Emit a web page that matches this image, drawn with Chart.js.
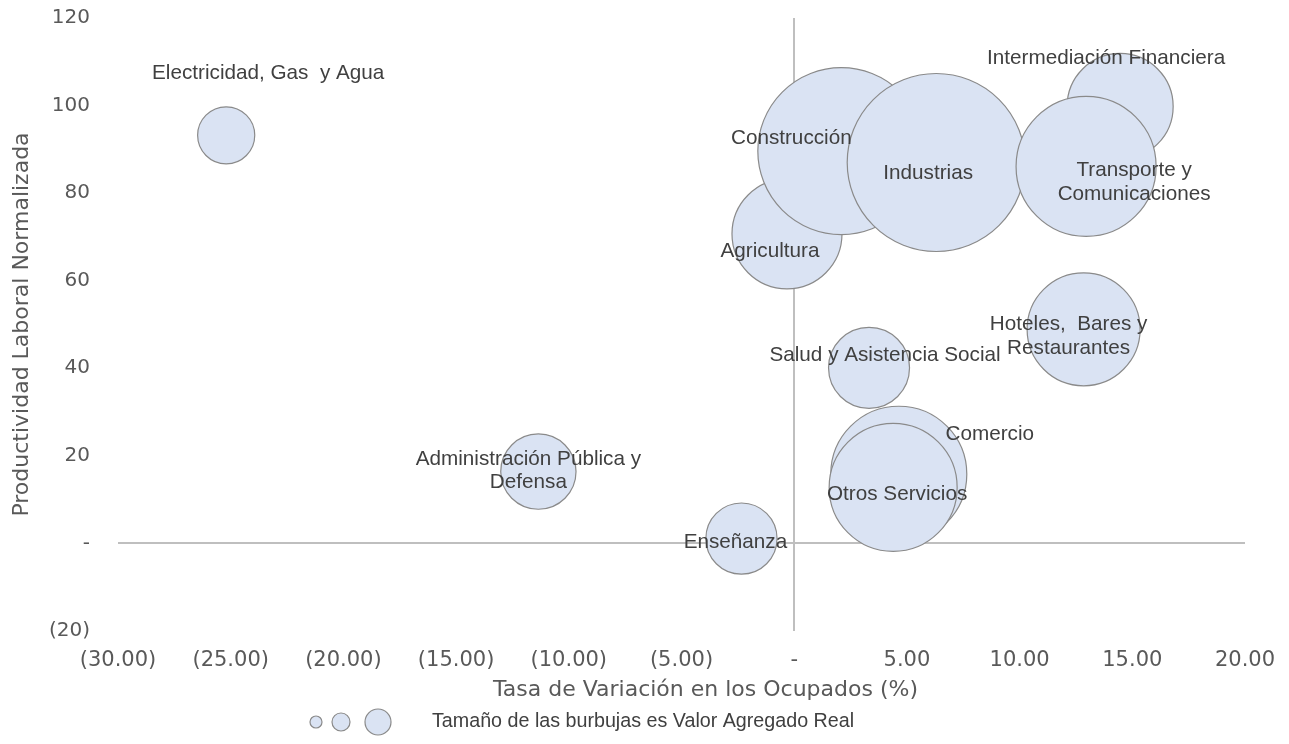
<!DOCTYPE html>
<html><head><meta charset="utf-8">
<script src="https://cdn.jsdelivr.net/npm/chart.js@4.4.0/dist/chart.umd.min.js"></script>
<style>html,body{margin:0;padding:0;background:#fff;}canvas{display:block;}</style>
</head><body>
<canvas id="c" width="1289" height="744"></canvas>
<script>
// ---- data ----
const sectores = [
  ['Electricidad, Gas  y Agua'],
  ['Agricultura'],
  ['Construcción'],
  ['Industrias'],
  ['Intermediación Financiera'],
  ['Transporte y', 'Comunicaciones'],
  ['Hoteles,  Bares y', 'Restaurantes'],
  ['Salud y Asistencia Social'],
  ['Comercio'],
  ['Otros Servicios'],
  ['Administración Pública y', 'Defensa'],
  ['Enseñanza']
];
const tasaVariacionOcupados = [-25.2, -0.32, 2.09, 6.30, 14.46, 12.95, 12.84, 3.32, 4.64, 4.39, -11.35, -2.34];
const productividadNormalizada = [93.2, 70.7, 89.6, 87.0, 99.8, 86.1, 48.9, 40.1, 15.8, 12.8, 16.4, 1.1];
const valorAgregadoReal = [10.3, 38.2, 88.0, 100.0, 35.5, 61.9, 40.3, 20.7, 58.4, 51.7, 17.9, 16.0];
const xTickValues = [-30, -25, -20, -15, -10, -5, 0, 5, 10, 15, 20];
const yTickValues = [-20, 0, 20, 40, 60, 80, 100, 120];
const xAxisTitle = 'Tasa de Variación en los Ocupados (%)';
const yAxisTitle = 'Productividad Laboral Normalizada';
const legendText = 'Tamaño de las burbujas es Valor Agregado Real';

// ---- style ----
const FONT = '"Liberation Sans", Arial, sans-serif';
const AXIS_FONT = '"DejaVu Sans", "Liberation Sans", sans-serif';
const MAX_RADIUS = 89;
const FILL = '#dae3f3';
const STROKE = '#8a8a8a';
const LABEL_COLOR = '#404040';
const AXIS_COLOR = '#595959';
// label offsets in pixels relative to bubble centres (style only)
const labelOffsets = [[42,-62],[-17,17],[-50,-13],[-8,11],[-14,-48],[48,16],[-15,7],[16,-13],[91,-40],[4,7],[-10,-1],[-6,4]];
const maxVal = Math.max(...valorAgregadoReal);
const radiusFor = v => MAX_RADIUS * Math.sqrt(v / maxVal);

function fmtX(v){ if (v === 0) return '-'; const s = Math.abs(v).toFixed(2); return v < 0 ? '(' + s + ')' : s; }
function fmtY(v){ if (v === 0) return '-'; const s = Math.abs(v).toFixed(0); return v < 0 ? '(' + s + ')' : s; }

const points = sectores.map((s, i) => ({
  x: tasaVariacionOcupados[i], y: productividadNormalizada[i], r: radiusFor(valorAgregadoReal[i])
}));

const labelPlugin = {
  id: 'bubbleLabels',
  afterDatasetsDraw(chart) {
    const ctx = chart.ctx;
    const meta = chart.getDatasetMeta(0);
    ctx.save();
    ctx.font = '20.7px ' + FONT;
    ctx.fillStyle = LABEL_COLOR;
    ctx.textAlign = 'center';
    ctx.textBaseline = 'middle';
    const lh = 23.5;
    meta.data.forEach((el, i) => {
      const lines = sectores[i];
      const cx = el.x + labelOffsets[i][0];
      const cy = el.y + labelOffsets[i][1];
      const y0 = cy - (lines.length - 1) * lh / 2;
      lines.forEach((t, k) => ctx.fillText(t, cx, y0 + k * lh));
    });
    ctx.restore();
  },
  afterDraw(chart) {
    const ctx = chart.ctx;
    const area = chart.chartArea;
    ctx.save();
    ctx.font = '22px ' + AXIS_FONT;
    ctx.fillStyle = AXIS_COLOR;
    ctx.textAlign = 'center';
    ctx.textBaseline = 'middle';
    ctx.fillText(xAxisTitle, (area.left + area.right) / 2 + 24, 690);
    // legend: bubble size key
    const icons = [[316, 6], [341, 9], [378, 13]];
    icons.forEach(([x, r]) => {
      ctx.beginPath();
      ctx.arc(x, 722, r, 0, Math.PI * 2);
      ctx.fillStyle = FILL; ctx.fill();
      ctx.lineWidth = 1.2; ctx.strokeStyle = STROKE; ctx.stroke();
    });
    ctx.font = '19.7px ' + FONT;
    ctx.fillStyle = LABEL_COLOR;
    ctx.textAlign = 'left';
    ctx.fillText(legendText, 432, 722);
    ctx.restore();
  }
};

new Chart(document.getElementById('c'), {
  type: 'bubble',
  data: {
    datasets: [{
      data: points,
      backgroundColor: FILL,
      borderColor: STROKE,
      borderWidth: 1.2,
      clip: false
    }]
  },
  options: {
    responsive: false,
    animation: false,
    events: [],
    layout: { autoPadding: false, padding: { top: 18, right: 44, left: 0, bottom: 0 } },
    plugins: { legend: { display: false }, tooltip: { enabled: false } },
    scales: {
      x: {
        type: 'linear', min: -30, max: 20,
        afterBuildTicks: s => { s.ticks = xTickValues.map(v => ({ value: v })); },
        afterFit: s => { s.height = 113; s.paddingLeft = 0; s.paddingRight = 0; },
        grid: { drawTicks: false, lineWidth: 2, color: c => (c.tick && c.tick.value === 0) ? '#bfbfbf' : 'rgba(0,0,0,0)' },
        border: { display: false },
        ticks: { autoSkip: false, maxRotation: 0, padding: 17, color: AXIS_COLOR, font: { family: AXIS_FONT, size: 21 }, callback: v => fmtX(v) }
      },
      y: {
        type: 'linear', min: -20, max: 120,
        afterBuildTicks: s => { s.ticks = yTickValues.map(v => ({ value: v })); },
        afterFit: s => { s.width = 118; s.paddingTop = 0; s.paddingBottom = 0; },
        grid: { drawTicks: false, lineWidth: 2, color: c => (c.tick && c.tick.value === 0) ? '#bfbfbf' : 'rgba(0,0,0,0)' },
        border: { display: false },
        title: { display: true, text: yAxisTitle, color: AXIS_COLOR, font: { family: AXIS_FONT, size: 22 }, padding: { top: 9, bottom: 0 } },
        ticks: { autoSkip: false, padding: 28, color: AXIS_COLOR, font: { family: AXIS_FONT, size: 20 }, callback: v => fmtY(v) }
      }
    }
  },
  plugins: [labelPlugin]
});
</script>
</body></html>
